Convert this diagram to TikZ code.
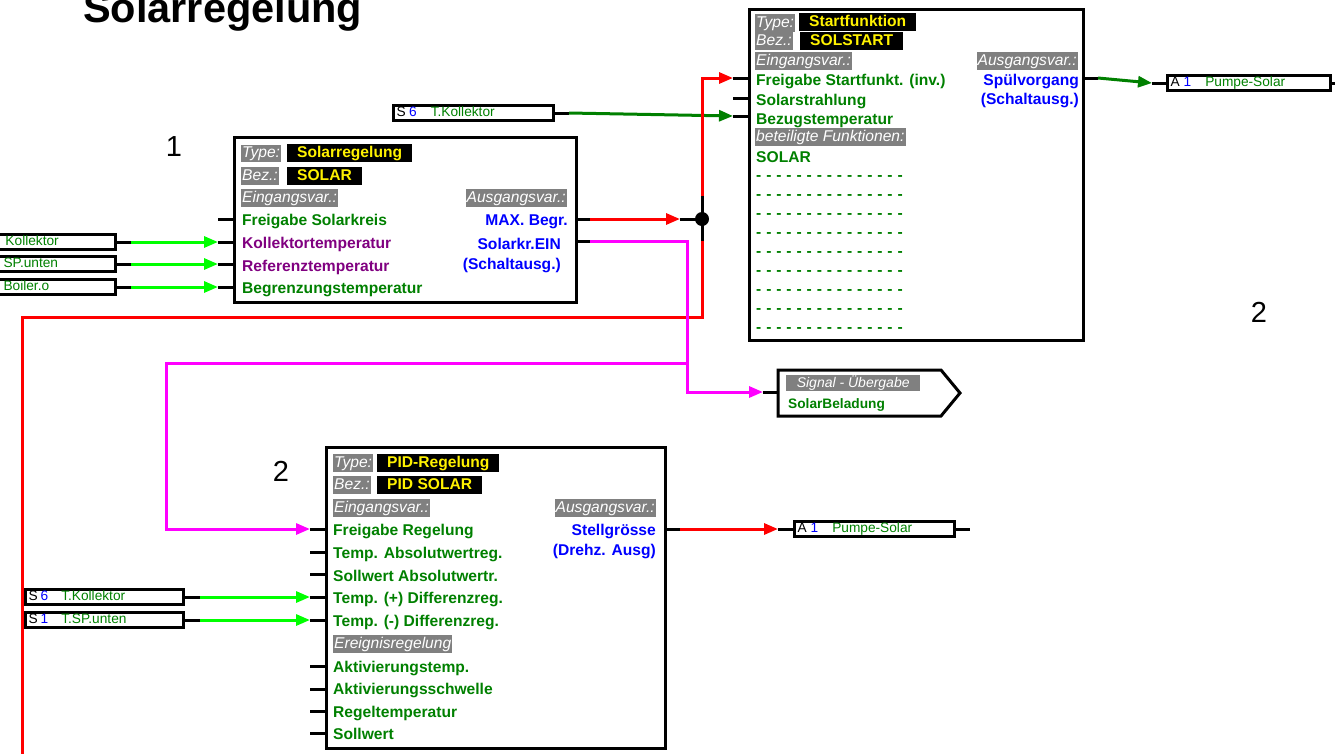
\documentclass[tikz,border=0pt]{standalone}
\usepackage{fontspec}
\setmainfont{Liberation Sans}
\usetikzlibrary{arrows.meta}

\definecolor{dgreen}{HTML}{008000}
\definecolor{lgreen}{HTML}{00FF00}
\definecolor{vio}{HTML}{800080}
\definecolor{mag}{HTML}{FF00FF}
\definecolor{lblgray}{HTML}{808080}
\newcommand{\fs}{\fontsize{15.6}{18}\selectfont}
\newcommand{\fsm}{\fontsize{13.7}{16}\selectfont}
\newcommand{\dashrow}{\foreach \k in {1,...,14}{-\hspace{4.9pt}}-}

\tikzset{
	blk/.style={draw, line width=3pt, anchor=north west, inner sep=0},
	lbl/.style={fill=lblgray, text=white, font=\fs\itshape, anchor=west, inner xsep=1pt, inner ysep=1pt, text height=12pt, text depth=3.5pt},
	ttl/.style={fill=black, text=yellow, font=\fs\bfseries, anchor=west, inner xsep=10pt, inner ysep=1.5pt, text height=12.5pt, text depth=3pt},
	invar/.style={text=dgreen, font=\fs\bfseries, anchor=base west, inner sep=0},
	outvar/.style={text=blue, font=\fs\bfseries, anchor=base east, inner sep=0},
	iobox/.style={draw, line width=3pt, anchor=west, font=\fsm, inner xsep=3pt, inner ysep=1pt, text height=10pt, text depth=3pt, align=left},
	stub/.style={line width=3pt, black},
	wire/.style={line width=3pt},
	link/.style={line width=3pt, -{Triangle[length=14pt,width=11pt]}},
	num/.style={font=\fontsize{29}{32}\selectfont},
	dot/.style={circle, fill=black, inner sep=0, minimum size=14pt}
}

\begin{document}
\begin{tikzpicture}[x=1pt, y=-1pt]
		%%%%% START %%%%%
		\useasboundingbox (0,0) rectangle (1335,753);
		\clip (0,0) rectangle (1335,753);
		
		\node[font=\fontsize{41.5}{44}\selectfont\bfseries, anchor=base west, inner sep=0] (title) at (83,22) {Solarregelung};
		
		% block 1
		\node[num] (n1) at (174,147) {1};
		\node[blk, minimum width=342pt, minimum height=165pt] (solar) at (233,136) {};
		\node[lbl] (solar-type) at (241,153.5) {Type:};
		\node[ttl] (solar-typev) at (287,153) {Solarregelung};
		\node[lbl] (solar-bez) at (241,176) {Bez.:};
		\node[ttl] (solar-bezv) at (287,176) {SOLAR};
		\node[lbl] (solar-ein) at (241,198) {Eingangsvar.:};
		\node[lbl, anchor=east] (solar-aus) at (567,198) {Ausgangsvar.:};
		\node[invar] (solar-i1) at (242,225) {Freigabe Solarkreis};
		\node[invar, text=vio] (solar-i2) at (242,248) {Kollektortemperatur};
		\node[invar, text=vio] (solar-i3) at (242,271) {Referenztemperatur};
		\node[invar] (solar-i4) at (242,293) {Begrenzungstemperatur};
		\node[outvar] (solar-o1) at (568,225) {MAX. Begr.};
		\node[outvar] (solar-o2) at (561,249) {Solarkr.EIN};
		\node[outvar] (solar-o2b) at (561,269) {(Schaltausg.)};
		\coordinate (solar-in1) at (218,219);
		\coordinate (solar-in2) at (218,242);
		\coordinate (solar-in3) at (218,264);
		\coordinate (solar-in4) at (218,287);
		\draw[stub] (solar-in1) -- ++(15,0);
		\draw[stub] (solar-in2) -- ++(15,0);
		\draw[stub] (solar-in3) -- ++(15,0);
		\draw[stub] (solar-in4) -- ++(15,0);
		\draw[stub] (575,219) -- (590,219) coordinate (solar-out1);
		\draw[stub] (575,241) -- (590,241) coordinate (solar-out2);
		
		\node[iobox, text width=116pt, text=dgreen] (kol) at (-8,242) {\hspace*{9pt}Kollektor};
		\node[iobox, text width=116pt, text=dgreen] (spu) at (-8,264) {\hspace*{7pt}SP.unten};
		\node[iobox, text width=116pt, text=dgreen] (boi) at (-8,287) {\hspace*{7pt}Boiler.o};
		\draw[stub] (kol.east) -- ++(14,0) coordinate (kol-out);
		\draw[stub] (spu.east) -- ++(14,0) coordinate (spu-out);
		\draw[stub] (boi.east) -- ++(14,0) coordinate (boi-out);
		\draw[link, lgreen] (kol-out) -- (solar-in2);
		\draw[link, lgreen] (spu-out) -- (solar-in3);
		\draw[link, lgreen] (boi-out) -- (solar-in4);
		
		% start function
		\node[blk, minimum width=334pt, minimum height=331pt] (ss) at (748,8) {};
		\node[lbl] (ss-type) at (755,23) {Type:};
		\node[ttl] (ss-typev) at (799,22) {Startfunktion};
		\node[lbl] (ss-bez) at (755,41) {Bez.:};
		\node[ttl] (ss-bezv) at (800,41) {SOLSTART};
		\node[lbl] (ss-ein) at (755,61) {Eingangsvar.:};
		\node[lbl, anchor=east] (ss-aus) at (1078,61) {Ausgangsvar.:};
		\node[invar] (ss-i1) at (756,85) {Freigabe Startfunkt. (inv.)};
		\node[invar] (ss-i2) at (756,105) {Solarstrahlung};
		\node[invar] (ss-i3) at (756,124) {Bezugstemperatur};
		\node[lbl] (ss-bet) at (755,137) {beteiligte Funktionen:};
		\node[invar] (ss-f1) at (756,162) {SOLAR};
		\node[invar] (ss-f2) at (756,180.5) {\dashrow};
		\node[invar] (ss-f3) at (756,199.5) {\dashrow};
		\node[invar] (ss-f4) at (756,218.5) {\dashrow};
		\node[invar] (ss-f5) at (756,237.5) {\dashrow};
		\node[invar] (ss-f6) at (756,256.5) {\dashrow};
		\node[invar] (ss-f7) at (756,275.5) {\dashrow};
		\node[invar] (ss-f8) at (756,294.5) {\dashrow};
		\node[invar] (ss-f9) at (756,313.5) {\dashrow};
		\node[invar] (ss-f10) at (756,332.5) {\dashrow};
		\node[outvar] (ss-o1) at (1079,85) {Spülvorgang};
		\node[outvar] (ss-o1b) at (1079,104) {(Schaltausg.)};
		\coordinate (ss-in1) at (733,78);
		\coordinate (ss-in2) at (733,98);
		\coordinate (ss-in3) at (733,116);
		\draw[stub] (ss-in1) -- ++(15,0);
		\draw[stub] (ss-in2) -- ++(15,0);
		\draw[stub] (ss-in3) -- ++(15,0);
		\draw[stub] (1082,78) -- (1098,78) coordinate (ss-out1);
		\node[num] (n2a) at (1259,312) {2};
		
		\node[iobox, text width=154pt] (ts6) at (392,113) {S\hspace{3.5pt}{\color{blue}6}\hspace{14pt}{\color{dgreen}T.Kollektor}};
		\draw[stub] (ts6.east) -- ++(14,0) coordinate (ts6-out);
		\draw[link, dgreen] (ts6-out) -- (ss-in3);
		
		\node[iobox, text width=157pt] (a1t) at (1166,83) {A\hspace{4pt}{\color{blue}1}\hspace{14pt}{\color{dgreen}Pumpe-Solar}};
		\coordinate (a1t-in) at (1152,83);
		\draw[stub] (a1t-in) -- (a1t.west);
		\draw[stub] (a1t.east) -- ++(12,0);
		\draw[link, dgreen] (ss-out1) -- (a1t-in);
		
		% junction and red lines
		\node[dot] (jn) at (702,219) {};
		\coordinate (jn-in) at (680,219);
		\coordinate (jn-up) at (702,196);
		\coordinate (jn-dn) at (702,241);
		\coordinate (rd-turn) at (22,317);
		\coordinate (rd-end) at (22,760);
		\draw[stub] (jn-in) -- (jn.center);
		\draw[stub] (jn-up) -- (jn-dn);
		\draw[link, red] (solar-out1) -- (jn-in);
		\draw[link, red] (jn-up) |- (ss-in1);
		\draw[wire, red] (jn-dn) |- (rd-turn) -- (rd-end);
		
		% signal
		\draw[line width=3pt] (778,370) -- (941,370) -- (960,393) -- (941,416) -- (778,416) -- cycle;
		\node[lbl, font=\fontsize{14}{16}\selectfont\itshape, minimum width=134pt, text height=11pt, text depth=3pt] (sig-lbl) at (786,383) {Signal - Übergabe};
		\node[invar, font=\fontsize{13.7}{16}\selectfont\bfseries] (sig-txt) at (788,408) {SolarBeladung};
		\coordinate (sig-in) at (763,392);
		\draw[stub] (sig-in) -- ++(15,0);
		
		% block 2
		\node[num] (n2b) at (281,471) {2};
		\node[blk, minimum width=339pt, minimum height=301pt] (pid) at (325,446) {};
		\node[lbl] (pid-type) at (333,463) {Type:};
		\node[ttl] (pid-typev) at (377,463) {PID-Regelung};
		\node[lbl] (pid-bez) at (333,485) {Bez.:};
		\node[ttl] (pid-bezv) at (377,485) {PID SOLAR};
		\node[lbl] (pid-ein) at (333,508) {Eingangsvar.:};
		\node[lbl, anchor=east] (pid-aus) at (656,508) {Ausgangsvar.:};
		\node[invar] (pid-i1) at (333,535) {Freigabe Regelung};
		\node[invar] (pid-i2) at (333,558) {Temp. Absolutwertreg.};
		\node[invar] (pid-i3) at (333,581) {Sollwert Absolutwertr.};
		\node[invar] (pid-i4) at (333,603) {Temp. (+) Differenzreg.};
		\node[invar] (pid-i5) at (333,626) {Temp. (-) Differenzreg.};
		\node[lbl] (pid-ereig) at (333,644) {Ereignisregelung};
		\node[invar] (pid-i6) at (333,672) {Aktivierungstemp.};
		\node[invar] (pid-i7) at (333,694) {Aktivierungsschwelle};
		\node[invar] (pid-i8) at (333,717) {Regeltemperatur};
		\node[invar] (pid-i9) at (333,739) {Sollwert};
		\node[outvar] (pid-o1) at (656,535) {Stellgrösse};
		\node[outvar] (pid-o1b) at (656,555) {(Drehz. Ausg)};
		\coordinate (pid-in1) at (310,529);
		\coordinate (pid-in2) at (310,552);
		\coordinate (pid-in3) at (310,574);
		\coordinate (pid-in4) at (310,597);
		\coordinate (pid-in5) at (310,620);
		\coordinate (pid-in6) at (310,666);
		\coordinate (pid-in7) at (310,689);
		\coordinate (pid-in8) at (310,711);
		\coordinate (pid-in9) at (310,733);
		\draw[stub] (pid-in1) -- ++(15,0);
		\draw[stub] (pid-in2) -- ++(15,0);
		\draw[stub] (pid-in3) -- ++(15,0);
		\draw[stub] (pid-in4) -- ++(15,0);
		\draw[stub] (pid-in5) -- ++(15,0);
		\draw[stub] (pid-in6) -- ++(15,0);
		\draw[stub] (pid-in7) -- ++(15,0);
		\draw[stub] (pid-in8) -- ++(15,0);
		\draw[stub] (pid-in9) -- ++(15,0);
		\draw[stub] (664,529) -- (680,529) coordinate (pid-out1);
		
		\node[iobox, text width=154pt] (a1b) at (793,529) {A\hspace{4pt}{\color{blue}1}\hspace{14pt}{\color{dgreen}Pumpe-Solar}};
		\coordinate (a1b-in) at (778,529);
		\draw[stub] (a1b-in) -- (a1b.west);
		\draw[stub] (a1b.east) -- ++(14,0);
		\draw[link, red] (pid-out1) -- (a1b-in);
		
		\node[iobox, text width=152pt] (s6b) at (24,597) {S\hspace{3pt}{\color{blue}6}\hspace{13pt}{\color{dgreen}T.Kollektor}};
		\node[iobox, text width=152pt] (s1b) at (24,620) {S\hspace{3pt}{\color{blue}1}\hspace{13pt}{\color{dgreen}T.SP.unten}};
		\draw[stub] (s6b.east) -- ++(15,0) coordinate (s6b-out);
		\draw[stub] (s1b.east) -- ++(15,0) coordinate (s1b-out);
		\draw[link, lgreen] (s6b-out) -- (pid-in4);
		\draw[link, lgreen] (s1b-out) -- (pid-in5);
		
		% magenta lines
		\coordinate (pk-split) at (687,363);
		\coordinate (pk-left) at (166,363);
		\draw[wire, mag] (solar-out2) -| (pk-split);
		\draw[link, mag] (pk-split) |- (sig-in);
		\draw[link, mag] (pk-split) -- (pk-left) |- (pid-in1);
		
		%%%%% END %%%%%
\end{tikzpicture}
\end{document}
